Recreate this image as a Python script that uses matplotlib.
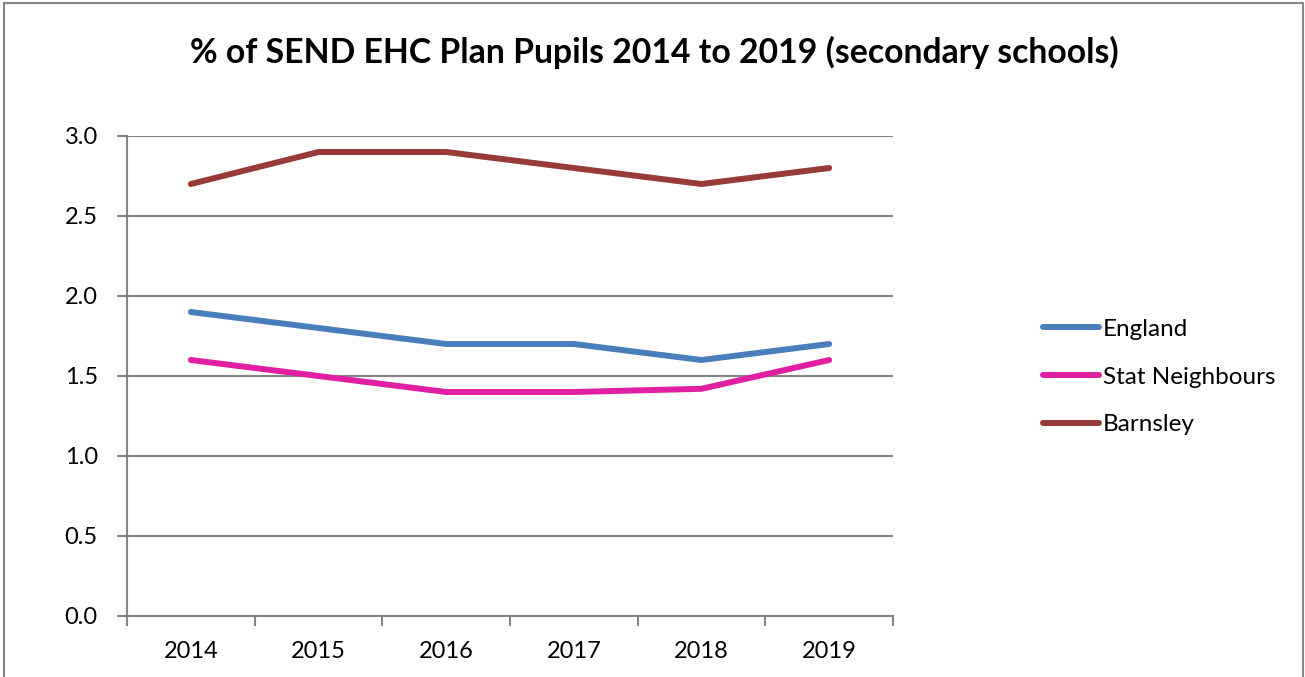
import matplotlib
matplotlib.use("Agg")
import matplotlib.pyplot as plt
from matplotlib.patches import Rectangle
from matplotlib.ticker import FixedLocator, NullFormatter

plt.rcParams['font.family'] = ['Lato', 'DejaVu Sans']

years = ["2014", "2015", "2016", "2017", "2018", "2019"]
england = [1.9, 1.8, 1.7, 1.7, 1.6, 1.7]
stat_neighbours = [1.6, 1.5, 1.4, 1.4, 1.42, 1.6]
barnsley = [2.7, 2.9, 2.9, 2.8, 2.7, 2.8]

series = [
    ("England", england, "#4A7EBB"),
    ("Stat Neighbours", stat_neighbours, "#E020A0"),
    ("Barnsley", barnsley, "#983A36"),
]

W, H = 1305, 677
fig = plt.figure(figsize=(W / 100, H / 100), dpi=100)
fig.patch.set_facecolor("white")

# outer chart border
fig.patches.append(Rectangle((4 / W, -0.05), (1303 - 4) / W, 1.05 - 3 / H,
                             transform=fig.transFigure, fill=False,
                             edgecolor="#868686", linewidth=1.5))

ax = fig.add_axes([127 / W, 61 / H, (893 - 127) / W, 480 / H])
x = list(range(len(years)))
for name, vals, col in series:
    ax.plot(x, vals, color=col, linewidth=4.3, label=name,
            solid_capstyle="round", solid_joinstyle="round")

ax.set_xlim(-0.5, len(years) - 0.5)
ax.set_ylim(0, 3.0)
yt = [0, 0.5, 1.0, 1.5, 2.0, 2.5, 3.0]
ax.set_yticks(yt)
ax.set_yticklabels([f"{v:.1f}" for v in yt])
ax.set_xticks(x)
ax.set_xticklabels(years)
ax.xaxis.set_minor_locator(FixedLocator([i - 0.5 for i in range(len(years) + 1)]))
ax.xaxis.set_minor_formatter(NullFormatter())
ax.tick_params(axis="x", which="major", length=0, pad=18, labelsize=17)
ax.tick_params(axis="x", which="minor", length=7, width=1.5, color="#868686")
ax.tick_params(axis="y", length=7, width=1.5, color="#868686", labelsize=17, pad=14)

ax.grid(axis="y", color="#868686", linewidth=1.5)
ax.set_axisbelow(True)
for s in ["top", "right"]:
    ax.spines[s].set_visible(False)
for s in ["left", "bottom"]:
    ax.spines[s].set_color("#868686")
    ax.spines[s].set_linewidth(1.5)

fig.text(654 / W, 1 - 52 / H, "% of SEND EHC Plan Pupils 2014 to 2019 (secondary schools)",
         ha="center", va="center", fontsize=24.3, fontweight="bold")

fig.legend(loc="center left", bbox_to_anchor=(1043 / W, 1 - 377 / H), frameon=False,
           fontsize=17.5, handlelength=2.3, handletextpad=0.15, labelspacing=1.1,
           borderaxespad=0, borderpad=0)

fig.savefig("out.png", dpi=100)
